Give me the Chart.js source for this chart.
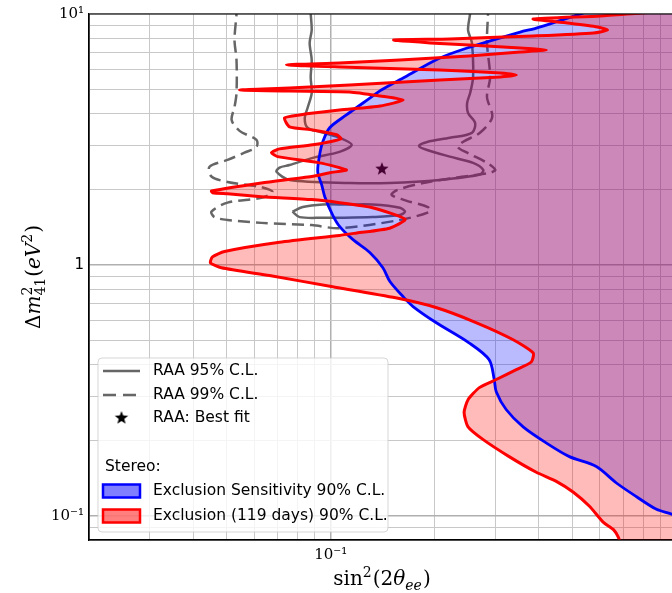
<!DOCTYPE html>
<html>
<head>
<meta charset="utf-8">
<script src="https://cdn.jsdelivr.net/npm/chart.js@4.4.1/dist/chart.umd.min.js"></script>
<style>
  html, body { margin: 0; padding: 0; background: #fff; }
</style>
</head>
<body>
<canvas id="myChart" width="672" height="593"></canvas>
<script>
// axis ranges and tick positions (log scales)
const xRange = [0.02, 0.97];
const yRange = [0.08, 10];
const xTicks = [0.02, 0.03, 0.04, 0.05, 0.06, 0.07, 0.08, 0.09, 0.1, 0.2, 0.3, 0.4, 0.5, 0.6, 0.7, 0.8, 0.9];
const yTicks = [0.08, 0.09, 0.1, 0.2, 0.3, 0.4, 0.5, 0.6, 0.7, 0.8, 0.9, 1, 2, 3, 4, 5, 6, 7, 8, 9, 10];

// contours as [sin^2(2theta), dm^2 (eV^2)] pairs
const sensitivityCurve = [
  [0.635, 10.9], [0.538, 10.1], [0.393, 8.79], [0.353, 8.47], [0.248, 7.32], [0.204, 6.62],
  [0.164, 5.61], [0.140, 4.98], [0.130, 4.63], [0.111, 3.96], [0.0993, 3.52], [0.0948, 3.09],
  [0.0929, 2.75], [0.0917, 2.35], [0.0942, 2.08], [0.0961, 1.87], [0.1013, 1.58], [0.1062, 1.42],
  [0.116, 1.26], [0.1297, 1.12], [0.1415, 0.973], [0.1483, 0.858], [0.162, 0.746], [0.173, 0.682],
  [0.2015, 0.589], [0.251, 0.489], [0.287, 0.419], [0.297, 0.349], [0.301, 0.312], [0.3215, 0.265],
  [0.360, 0.226], [0.420, 0.195], [0.490, 0.172], [0.586, 0.157], [0.670, 0.135], [0.766, 0.119],
  [0.875, 0.106], [0.974, 0.101], [1.174, 0.088]
];

const exclusionCurve = [
  [1.174, 10.47], [0.7865, 10.09], [0.6023, 9.82], [0.385, 9.55], [0.483, 9.21], [0.590, 8.88],
  [0.631, 8.63], [0.575, 8.40], [0.385, 8.17], [0.315, 8.10], [0.221, 7.95], [0.152, 7.88],
  [0.194, 7.67], [0.251, 7.53], [0.353, 7.32], [0.420, 7.19], [0.353, 7.06], [0.251, 6.80],
  [0.1585, 6.56], [0.106, 6.38], [0.0745, 6.27], [0.106, 6.15], [0.207, 5.98], [0.309, 5.82],
  [0.344, 5.71], [0.309, 5.61], [0.207, 5.46], [0.1135, 5.21], [0.076, 5.07], [0.0545, 4.98],
  [0.076, 4.93], [0.1135, 4.89], [0.139, 4.71], [0.162, 4.54], [0.139, 4.30], [0.106, 4.14],
  [0.0813, 3.96], [0.0735, 3.85], [0.076, 3.55], [0.0887, 3.45], [0.104, 3.30], [0.107, 3.18],
  [0.0887, 3.01], [0.0711, 2.90], [0.0674, 2.80], [0.0702, 2.70], [0.0929, 2.55], [0.111, 2.39],
  [0.0993, 2.33], [0.0881, 2.25], [0.063, 2.12], [0.0452, 1.97], [0.0455, 1.94], [0.0503, 1.92],
  [0.063, 1.87], [0.0881, 1.82], [0.106, 1.77], [0.132, 1.69], [0.164, 1.52], [0.148, 1.40],
  [0.119, 1.34], [0.106, 1.31], [0.0711, 1.23], [0.0493, 1.13], [0.0455, 1.076], [0.0449, 1.018],
  [0.0483, 0.973], [0.0665, 0.906], [0.1013, 0.818], [0.154, 0.739], [0.2014, 0.676], [0.263, 0.589],
  [0.337, 0.503], [0.385, 0.445], [0.380, 0.410], [0.344, 0.382], [0.301, 0.349], [0.269, 0.324],
  [0.2495, 0.290], [0.243, 0.258], [0.2495, 0.226], [0.276, 0.201], [0.328, 0.172], [0.393, 0.149],
  [0.449, 0.137], [0.503, 0.124], [0.560, 0.109], [0.6145, 0.094], [0.657, 0.088], [0.679, 0.0819],
  [0.693, 0.0746]
];

const raa95Outer = [
  [0.0875, 10.9], [0.0875, 10.09], [0.0881, 8.63], [0.0869, 7.67], [0.0881, 6.56], [0.0875, 5.61],
  [0.0881, 4.84], [0.0857, 4.22], [0.0841, 3.85], [0.0857, 3.52], [0.0929, 3.39], [0.106, 3.21],
  [0.115, 3.01], [0.106, 2.82], [0.0887, 2.67], [0.076, 2.50], [0.0711, 2.44], [0.0697, 2.35],
  [0.076, 2.18], [0.1135, 2.12], [0.148, 2.12], [0.207, 2.18], [0.270, 2.29], [0.276, 2.39],
  [0.258, 2.55], [0.221, 2.70], [0.190, 2.87], [0.180, 2.98], [0.190, 3.09], [0.221, 3.21],
  [0.256, 3.36], [0.2615, 3.68], [0.2495, 4.03], [0.248, 4.42], [0.253, 4.84], [0.258, 5.61],
  [0.256, 7.67], [0.2495, 8.63], [0.253, 10.09], [0.253, 10.9]
];

const raa95Island = [
  [0.0775, 1.63], [0.083, 1.70], [0.0948, 1.74], [0.111, 1.74], [0.132, 1.74], [0.1585, 1.69],
  [0.164, 1.63], [0.1585, 1.58], [0.132, 1.55], [0.106, 1.54], [0.0948, 1.54], [0.0813, 1.55],
  [0.0775, 1.63]
];

const raa99 = [
  [0.0534, 10.9], [0.0534, 10], [0.0527, 7.88], [0.0534, 6.56], [0.0534, 4.84], [0.0527, 4.26],
  [0.0517, 3.78], [0.0545, 3.42], [0.061, 3.15], [0.061, 2.95], [0.0563, 2.80], [0.0503, 2.62],
  [0.0446, 2.46], [0.0452, 2.25], [0.0503, 2.14], [0.063, 2.04], [0.0679, 1.95], [0.063, 1.85],
  [0.0503, 1.77], [0.0452, 1.63], [0.0461, 1.55], [0.0503, 1.51], [0.063, 1.47], [0.0881, 1.44],
  [0.106, 1.40], [0.1585, 1.51], [0.1936, 1.63], [0.191, 1.70], [0.166, 1.80], [0.150, 1.90],
  [0.156, 1.99], [0.185, 2.12], [0.232, 2.23], [0.289, 2.33], [0.299, 2.39], [0.283, 2.55],
  [0.248, 2.80], [0.233, 2.95], [0.241, 3.09], [0.270, 3.36], [0.293, 3.88], [0.283, 4.67],
  [0.289, 5.61], [0.283, 7.67], [0.285, 10.09], [0.285, 10.9]
];

const bestFit = [[0.1406, 2.41]];

// points far outside the axes, used to close the excluded regions to the right
const outsideLeftTop = [0.01, 12];
const outsideRight = [[1.3, 0.06], [1.3, 12]];

const gray = '#666666';
const toXY = arr => arr.map(p => ({ x: p[0], y: p[1] }));
const closeRight = curve => toXY([outsideLeftTop, ...curve, ...outsideRight]);
const isDecade = v => Math.abs(Math.log10(v) - Math.round(Math.log10(v))) < 1e-9;
const near = (a, b) => Math.abs(a - b) < 1e-9;

// filled 5 point star like matplotlib's '*' marker
function makeStar(r, color) {
    const c = document.createElement('canvas');
    const s = Math.ceil(r * 2) + 2;
    c.width = s; c.height = s;
    const g = c.getContext('2d');
    g.fillStyle = color;
    g.beginPath();
    for (let i = 0; i < 10; i++) {
        const rad = i % 2 ? r * 0.42 : r;
        const ang = -Math.PI / 2 + i * Math.PI / 5;
        g.lineTo(s / 2 + rad * Math.cos(ang), s / 2 + rad * Math.sin(ang));
    }
    g.closePath();
    g.fill();
    return c;
}
const starImg = makeStar(7, '#000');

// rich text helper for the math style axis titles
function drawRich(ctx, parts, cx, y, size) {
    const small = Math.round(size * 0.7);
    const font = (it, s) => (it ? 'italic ' : '') + s + 'px "DejaVu Serif"';
    const widths = parts.map(p => {
        if (p.t) { ctx.font = font(p.it, size); return ctx.measureText(p.t).width; }
        ctx.font = font(p.it, small);
        let w = 0;
        if (p.sup) w = Math.max(w, ctx.measureText(p.sup).width);
        if (p.sub) w = Math.max(w, ctx.measureText(p.sub).width);
        return w + 1;
    });
    const total = widths.reduce((a, b) => a + b, 0);
    let x = cx - total / 2;
    ctx.textAlign = 'left';
    ctx.textBaseline = 'alphabetic';
    parts.forEach((p, i) => {
        if (p.t) {
            ctx.font = font(p.it, size);
            ctx.fillText(p.t, x, y);
        } else {
            ctx.font = font(p.it, small);
            if (p.sup) ctx.fillText(p.sup, x, y - size * 0.42);
            if (p.sub) ctx.fillText(p.sub, x, y + size * 0.25);
        }
        x += widths[i];
    });
}

const yTitle = [{ t: 'Δ' }, { t: 'm', it: true }, { sup: '2', sub: '41' }, { t: '(' }, { t: 'eV', it: true }, { sup: '2' }, { t: ')' }];
const xTitle = [{ t: 'sin' }, { sup: '2' }, { t: '(2' }, { t: 'θ', it: true }, { sub: 'ee', it: true }, { t: ')' }];

const legendRows = [
    { kind: 'line', label: 'RAA 95% C.L.' },
    { kind: 'dash', label: 'RAA 99% C.L.' },
    { kind: 'star', label: 'RAA: Best fit' },
    { kind: 'title', label: 'Stereo:' },
    { kind: 'patch', label: 'Exclusion Sensitivity 90% C.L.', fill: 'rgba(0,0,255,0.5)', edge: '#0000ff' },
    { kind: 'patch', label: 'Exclusion (119 days) 90% C.L.', fill: 'rgba(255,0,0,0.5)', edge: '#ff0000' }
];
const legendRowY = [371, 395, 418, 467, 491, 516];

const decorations = {
    id: 'decorations',
    afterDatasetsDraw(chart) {
        const { ctx, chartArea: a } = chart;
        ctx.save();
        // frame
        ctx.strokeStyle = '#000';
        ctx.lineWidth = 1.2;
        ctx.beginPath();
        ctx.moveTo(a.right, a.top);
        ctx.lineTo(a.left, a.top);
        ctx.lineTo(a.left, a.bottom);
        ctx.lineTo(a.right, a.bottom);
        ctx.stroke();

        // legend box
        const bx = 98, by = 358, bw = 290, bh = 174;
        ctx.beginPath();
        ctx.roundRect(bx, by, bw, bh, 4);
        ctx.fillStyle = 'rgba(255,255,255,0.8)';
        ctx.fill();
        ctx.strokeStyle = 'rgba(204,204,204,0.8)';
        ctx.lineWidth = 1;
        ctx.stroke();

        legendRows.forEach((row, i) => {
            const y = legendRowY[i];
            const hx = bx + 5;
            if (row.kind === 'line' || row.kind === 'dash') {
                ctx.strokeStyle = gray;
                ctx.lineWidth = 2.5;
                ctx.setLineDash(row.kind === 'dash' ? [13, 7] : []);
                ctx.beginPath();
                ctx.moveTo(hx, y);
                ctx.lineTo(hx + 37, y);
                ctx.stroke();
                ctx.setLineDash([]);
            } else if (row.kind === 'star') {
                ctx.drawImage(starImg, hx + 18.5 - starImg.width / 2, y - starImg.height / 2);
            } else if (row.kind === 'patch') {
                ctx.fillStyle = row.fill;
                ctx.fillRect(hx, y - 6.5, 37, 13);
                ctx.strokeStyle = row.edge;
                ctx.lineWidth = 2.5;
                ctx.strokeRect(hx, y - 6.5, 37, 13);
            }
            ctx.fillStyle = '#000';
            ctx.font = '15.5px "DejaVu Sans"';
            ctx.textAlign = 'left';
            ctx.textBaseline = 'middle';
            ctx.fillText(row.label, row.kind === 'title' ? hx + 2 : hx + 50, y);
        });

        // axis titles
        ctx.fillStyle = '#000';
        drawRich(ctx, xTitle, 382, 585, 20);
        ctx.translate(40, (a.top + a.bottom) / 2);
        ctx.rotate(-Math.PI / 2);
        drawRich(ctx, yTitle, 0, 0, 20);
        ctx.restore();
    }
};

const lineDefaults = { showLine: true, pointRadius: 0, borderJoinStyle: 'round', fill: false, clip: 0, tension: 0.3 };

const gridColor = c => (c.tick && isDecade(c.tick.value)) ? '#b0b0b0' : '#c8c8c8';
const gridWidth = c => (c.tick && isDecade(c.tick.value)) ? 1.5 : 1;

const ctx = document.getElementById('myChart').getContext('2d');
const myChart = new Chart(ctx, {
    type: 'scatter',
    data: {
        datasets: [
            Object.assign({ label: 'RAA 95% C.L.', data: toXY(raa95Outer), borderColor: gray, borderWidth: 2.5, order: 6 }, lineDefaults),
            Object.assign({ label: 'RAA 95% C.L. island', data: toXY(raa95Island), borderColor: gray, borderWidth: 2.5, order: 6 }, lineDefaults),
            Object.assign({ label: 'RAA 99% C.L.', data: toXY(raa99), borderColor: gray, borderWidth: 2.5, borderDash: [12, 6], order: 6 }, lineDefaults),
            { label: 'RAA: Best fit', data: toXY(bestFit), showLine: false, pointStyle: starImg, pointRadius: 7, order: 5, clip: 0 },
            Object.assign({}, lineDefaults, { label: 'sens fill', data: closeRight(sensitivityCurve), borderColor: 'rgba(0,0,0,0)', borderWidth: 0, backgroundColor: 'rgba(0,0,255,0.27)', fill: 'shape', order: 4 }),
            Object.assign({}, lineDefaults, { label: 'excl fill', data: closeRight(exclusionCurve), borderColor: 'rgba(0,0,0,0)', borderWidth: 0, backgroundColor: 'rgba(255,0,0,0.27)', fill: 'shape', tension: 0.2, order: 3 }),
            Object.assign({}, lineDefaults, { label: 'Exclusion Sensitivity 90% C.L.', data: toXY(sensitivityCurve), borderColor: '#0000ff', borderWidth: 2.8, order: 2 }),
            Object.assign({}, lineDefaults, { label: 'Exclusion (119 days) 90% C.L.', data: toXY(exclusionCurve), borderColor: '#ff0000', borderWidth: 3, tension: 0.2, order: 1 })
        ]
    },
    options: {
        responsive: false,
        animation: false,
        events: [],
        layout: { autoPadding: false, padding: { top: 14, left: 0, right: 0, bottom: 0 } },
        elements: { line: { capBezierPoints: false } },
        plugins: { legend: { display: false }, tooltip: { enabled: false } },
        scales: {
            x: {
                type: 'logarithmic',
                min: xRange[0],
                max: xRange[1],
                afterBuildTicks: scale => { scale.ticks = xTicks.map(v => ({ value: v })); },
                afterFit: scale => { scale.height = 53; scale.paddingLeft = 0; scale.paddingRight = 0; },
                border: { color: '#000', width: 1.2 },
                grid: { drawTicks: false, color: gridColor, lineWidth: gridWidth },
                ticks: {
                    autoSkip: false,
                    maxRotation: 0,
                    padding: 6,
                    color: '#000',
                    font: { family: 'DejaVu Serif', size: 15 },
                    callback: v => near(v, 0.1) ? '10⁻¹' : ''
                }
            },
            y: {
                type: 'logarithmic',
                min: yRange[0],
                max: yRange[1],
                afterBuildTicks: scale => { scale.ticks = yTicks.map(v => ({ value: v })); },
                afterFit: scale => { scale.width = 89; scale.paddingTop = 0; scale.paddingBottom = 0; },
                border: { color: '#000', width: 1.2 },
                grid: { drawTicks: false, color: gridColor, lineWidth: gridWidth },
                ticks: {
                    autoSkip: false,
                    padding: 5,
                    color: '#000',
                    font: c => ({ family: (c.tick && near(c.tick.value, 1)) ? 'DejaVu Sans' : 'DejaVu Serif', size: 15 }),
                    callback: v => near(v, 10) ? '10¹' : near(v, 1) ? '1' : near(v, 0.1) ? '10⁻¹' : ''
                }
            }
        }
    },
    plugins: [decorations]
});
</script>
</body>
</html>
